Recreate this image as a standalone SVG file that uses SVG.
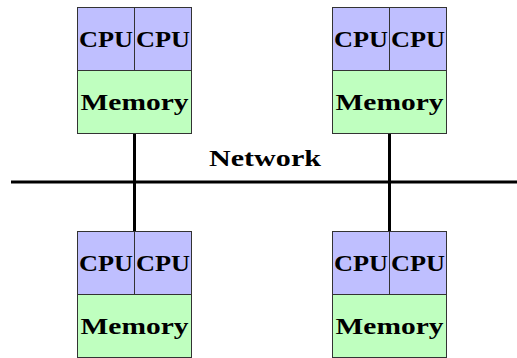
<svg xmlns="http://www.w3.org/2000/svg" width="517" height="358" viewBox="0 0 517 358">
<style>
.cpu{fill:#bfbfff;stroke:#333;stroke-width:1}
.mem{fill:#bfffbf;stroke:#333;stroke-width:1}
.t{font-family:"Liberation Serif","DejaVu Serif",serif;font-weight:bold;font-size:23px;fill:#000;text-anchor:middle}
.ln{stroke:#000;stroke-width:3;fill:none}
</style>
<rect width="517" height="358" fill="#fff"/>
<g id="connectors">
<line class="ln" x1="11" y1="182" x2="517" y2="182"/>
<line class="ln" x1="134.5" y1="133.5" x2="134.5" y2="231.5"/>
<line class="ln" x1="389.5" y1="133.5" x2="389.5" y2="231.5"/>
</g>
<g id="label-network"><text class="t" x="265" y="166" textLength="112" lengthAdjust="spacingAndGlyphs">Network</text></g>
<g id="node-tl">
<rect class="cpu" x="77.5" y="7.5" width="57" height="63"/>
<rect class="cpu" x="134.5" y="7.5" width="57" height="63"/>
<rect class="mem" x="77.5" y="70.5" width="114" height="63"/>
<text class="t" x="106" y="47" textLength="54" lengthAdjust="spacingAndGlyphs">CPU</text>
<text class="t" x="163" y="47" textLength="54" lengthAdjust="spacingAndGlyphs">CPU</text>
<text class="t" x="134.5" y="110" textLength="108" lengthAdjust="spacingAndGlyphs">Memory</text>
</g>
<g id="node-tr">
<rect class="cpu" x="332.5" y="7.5" width="57" height="63"/>
<rect class="cpu" x="389.5" y="7.5" width="57" height="63"/>
<rect class="mem" x="332.5" y="70.5" width="114" height="63"/>
<text class="t" x="361" y="47" textLength="54" lengthAdjust="spacingAndGlyphs">CPU</text>
<text class="t" x="418" y="47" textLength="54" lengthAdjust="spacingAndGlyphs">CPU</text>
<text class="t" x="389.5" y="110" textLength="108" lengthAdjust="spacingAndGlyphs">Memory</text>
</g>
<g id="node-bl">
<rect class="cpu" x="77.5" y="231.5" width="57" height="63"/>
<rect class="cpu" x="134.5" y="231.5" width="57" height="63"/>
<rect class="mem" x="77.5" y="294.5" width="114" height="63"/>
<text class="t" x="106" y="271" textLength="54" lengthAdjust="spacingAndGlyphs">CPU</text>
<text class="t" x="163" y="271" textLength="54" lengthAdjust="spacingAndGlyphs">CPU</text>
<text class="t" x="134.5" y="334" textLength="108" lengthAdjust="spacingAndGlyphs">Memory</text>
</g>
<g id="node-br">
<rect class="cpu" x="332.5" y="231.5" width="57" height="63"/>
<rect class="cpu" x="389.5" y="231.5" width="57" height="63"/>
<rect class="mem" x="332.5" y="294.5" width="114" height="63"/>
<text class="t" x="361" y="271" textLength="54" lengthAdjust="spacingAndGlyphs">CPU</text>
<text class="t" x="418" y="271" textLength="54" lengthAdjust="spacingAndGlyphs">CPU</text>
<text class="t" x="389.5" y="334" textLength="108" lengthAdjust="spacingAndGlyphs">Memory</text>
</g>
</svg>
